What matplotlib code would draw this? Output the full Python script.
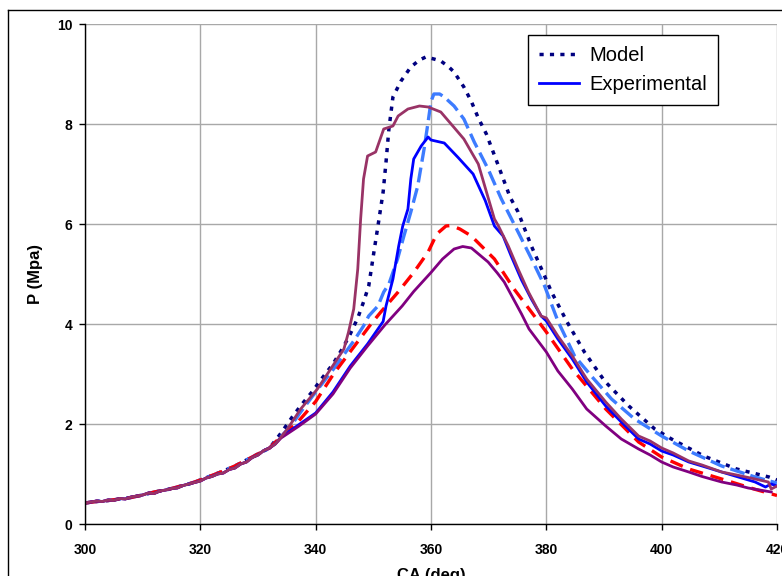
import matplotlib
matplotlib.use("Agg")
import matplotlib.pyplot as plt
from matplotlib.lines import Line2D

plt.rcParams["font.family"] = ["Liberation Sans", "DejaVu Sans"]

# shared low-pressure (compression) part
model_early_ca = [300, 302, 304, 306, 308, 310, 312, 314, 316, 318, 320, 322, 324, 326, 328, 330, 332]
model_early_p = [0.42, 0.45, 0.47, 0.50, 0.53, 0.58, 0.64, 0.68, 0.74, 0.80, 0.88, 0.97, 1.06, 1.16, 1.28, 1.40, 1.52]
exp_early_ca = [300, 301, 302, 303, 304, 305, 306, 307, 308, 309, 310, 311, 312, 313, 314, 315, 316, 317, 318,
                319, 320, 321, 322, 323, 324, 325, 326, 327, 328, 329, 330, 331, 332, 333]
exp_early_p = [0.42, 0.44, 0.46, 0.45, 0.48, 0.47, 0.51, 0.50, 0.54, 0.56, 0.58, 0.62, 0.61, 0.66, 0.68, 0.71,
               0.72, 0.77, 0.80, 0.83, 0.86, 0.92, 0.95, 1.00, 1.02, 1.09, 1.12, 1.20, 1.24, 1.33, 1.38, 1.47,
               1.52, 1.60]

# Model (navy dotted)
navy_ca = [334, 336, 337.5, 339.5, 341, 343, 344.7, 346, 347.3, 348.3, 349.2, 350.1, 350.8, 351.7, 352.2,
           352.7, 353.4, 354.8, 356.5, 358, 359.1, 360.5, 361.7, 363, 364, 365.7, 367, 368.2, 369.6, 371.7,
           373.7, 375.1, 377.4, 379.7, 380.9, 383.6, 386.6, 390.1, 394.3, 398.8, 401.7, 407.3, 413, 418.6, 420]
navy_p = [1.82, 2.15, 2.38, 2.66, 2.9, 3.2, 3.52, 3.8, 4.12, 4.44, 4.76, 5.44, 5.96, 6.64, 7.24,
          7.9, 8.54, 8.86, 9.14, 9.28, 9.34, 9.3, 9.26, 9.15, 9.04, 8.74, 8.45, 8.12, 7.8, 7.16,
          6.54, 6.24, 5.56, 4.96, 4.64, 4.04, 3.44, 2.86, 2.36, 1.9, 1.7, 1.36, 1.1, 0.94, 0.88]

# second model run (light blue dashed)
lblue_ca = [334, 335.7, 337.4, 340, 343.1, 346.6, 348.3, 349.2, 350.8, 351.8, 352.7, 354.2, 355.3, 356.5,
            357.7, 358.8, 359.5, 360, 360.5, 361.5, 362.3, 364, 365.7, 367.5, 369.9, 372.2, 375.1, 377.7,
            379.7, 382, 384.9, 387.8, 391.3, 395.3, 400, 404.7, 410.4, 416.2, 420]
lblue_p = [1.75, 1.96, 2.24, 2.64, 3.1, 3.66, 3.96, 4.16, 4.36, 4.64, 4.8, 5.3, 5.76, 6.24,
           6.76, 7.5, 8.04, 8.45, 8.6, 8.6, 8.54, 8.36, 8.1, 7.64, 7.1, 6.5, 5.84, 5.24,
           4.76, 4.06, 3.36, 2.96, 2.5, 2.1, 1.76, 1.46, 1.16, 0.94, 0.82]

# third model run (red dashed)
red_ca = [334, 336.9, 340, 343.1, 346.6, 349.6, 351.3, 354.3, 357, 359.5, 361, 362.6, 363.5, 365, 367, 371,
          374.4, 377.4, 380, 384.5, 390.3, 396, 400, 404.7, 410.4, 416, 420]
red_p = [1.75, 2.04, 2.45, 3.0, 3.54, 4.0, 4.24, 4.64, 5.03, 5.44, 5.8, 5.96, 5.97, 5.9, 5.76, 5.3,
         4.7, 4.24, 3.84, 3.1, 2.3, 1.64, 1.34, 1.1, 0.9, 0.7, 0.57]

# Experimental (blue solid)
blue_ca = [334, 337, 340, 343, 346, 349, 351.7, 352.2, 353.4, 354.4, 355.1, 356, 356.5, 357, 358.3, 359.5,
           360, 362.3, 364.7, 367.3, 369.4, 371, 372.5, 373.9, 375.7, 377.4, 379.1, 380, 382, 384.5, 387,
           390.3, 393, 396, 398, 400, 402, 404.7, 407, 410.4, 413, 416.2, 418, 419, 420]
blue_p = [1.74, 1.98, 2.22, 2.64, 3.16, 3.6, 4.05, 4.36, 4.9, 5.56, 5.96, 6.3, 6.9, 7.3, 7.56, 7.74,
          7.68, 7.62, 7.33, 7.0, 6.47, 5.96, 5.76, 5.36, 4.88, 4.5, 4.16, 4.06, 3.7, 3.3, 2.84,
          2.36, 2.04, 1.7, 1.6, 1.46, 1.38, 1.24, 1.16, 1.04, 0.95, 0.84, 0.74, 0.8, 0.76]

# second experiment (purple solid)
purple_ca = [334, 337, 340, 343, 346, 349, 352, 355, 357, 360, 362, 364, 365.5, 367, 369.9, 371.5, 372.7,
             375.7, 377, 380, 382, 384.5, 387, 390.3, 393, 396, 398, 400, 402, 404.7, 407, 410.4, 413, 415, 419]
purple_p = [1.72, 1.95, 2.2, 2.6, 3.12, 3.56, 3.98, 4.36, 4.65, 5.03, 5.3, 5.5, 5.55, 5.52, 5.24, 5.02, 4.84,
            4.2, 3.9, 3.44, 3.06, 2.7, 2.3, 1.96, 1.7, 1.5, 1.38, 1.24, 1.14, 1.04, 0.95, 0.84, 0.78, 0.72, 0.64]

# third experiment (plum solid, early ignition)
plum_ca = [334, 335.1, 337.4, 340.3, 342.6, 344.9, 345.7, 346.6, 347.3, 347.8, 348.3, 349, 350.4, 351.8,
           353.4, 354.3, 356, 358, 359.5, 361.7, 364, 365.7, 366.4, 368.2, 369.9, 371, 371.7, 373.4, 375.1,
           376.9, 379.1, 380, 382, 384.5, 387, 390.3, 393, 396, 398, 400, 402, 404.7, 407, 410.4, 413, 416.2,
           418.5, 419, 420]
plum_p = [1.74, 1.9, 2.3, 2.7, 3.1, 3.5, 3.84, 4.3, 5.1, 6.1, 6.9, 7.36, 7.44, 7.9,
          7.96, 8.16, 8.3, 8.36, 8.34, 8.24, 7.93, 7.7, 7.56, 7.2, 6.53, 6.1, 5.96, 5.56, 5.1,
          4.64, 4.16, 4.12, 3.76, 3.36, 2.9, 2.44, 2.1, 1.76, 1.66, 1.52, 1.42, 1.26, 1.18, 1.04, 0.98, 0.9,
          0.84, 0.7, 0.76]

fig = plt.figure(figsize=(7.82, 5.76), dpi=100)
ax = fig.add_axes([85 / 782, 1 - 524 / 576, 692 / 782, 500 / 576])

navy, = ax.plot(model_early_ca + navy_ca, model_early_p + navy_p, color="#000080", lw=2.5,
                linestyle=(0, (1.2, 1.8)), label="Model")
ax.plot(model_early_ca + lblue_ca, model_early_p + lblue_p, color="#3d7cff", lw=2.4,
        linestyle=(0, (4.5, 1.8)))
ax.plot(model_early_ca + red_ca, model_early_p + red_p, color="#ff0000", lw=2.4,
        linestyle=(0, (4.0, 2.4)))
blue, = ax.plot(exp_early_ca + blue_ca, exp_early_p + blue_p, color="#0000ff", lw=2.0,
                label="Experimental")
ax.plot(exp_early_ca + purple_ca, exp_early_p + purple_p, color="#800080", lw=2.0)
ax.plot(exp_early_ca + plum_ca, exp_early_p + plum_p, color="#993366", lw=2.0)

ax.set_xlim(300, 420)
ax.set_ylim(0, 10)
ax.set_xticks(range(300, 421, 20))
ax.set_yticks(range(0, 11, 2))
ax.grid(True, color="#a8a8a8", lw=1.0)
ax.set_axisbelow(True)
for side in ("top", "right"):
    ax.spines[side].set_visible(False)
for side in ("left", "bottom"):
    ax.spines[side].set_color("black")
    ax.spines[side].set_linewidth(1.0)
ax.tick_params(direction="out", length=4, width=1, colors="black", labelsize=10)
ax.tick_params(axis="x", pad=9.5)
ax.tick_params(axis="y", pad=5)
for lab in ax.get_xticklabels() + ax.get_yticklabels():
    lab.set_fontweight("bold")

ax.set_xlabel("CA (deg)", fontsize=12, fontweight="bold", labelpad=8)
ax.set_ylabel("P (Mpa)", fontsize=12, fontweight="bold", labelpad=10)

leg = ax.legend(handles=[navy, blue], loc="upper left", bbox_to_anchor=(528 / 782, 1 - 35 / 576),
                bbox_transform=fig.transFigure, borderaxespad=0, fontsize=14.5, frameon=True,
                fancybox=False, edgecolor="black", framealpha=1, handlelength=2.0,
                handletextpad=0.5, labelspacing=0.5, borderpad=0.55)
leg.get_frame().set_linewidth(1.0)

# outer chart border (cut on the right and bottom in the original)
fig.add_artist(Line2D([8 / 782, 8 / 782], [0, 1 - 10 / 576], color="black", lw=1))
fig.add_artist(Line2D([8 / 782, 1], [1 - 10 / 576, 1 - 10 / 576], color="black", lw=1))

fig.savefig("out.png", dpi=100)
